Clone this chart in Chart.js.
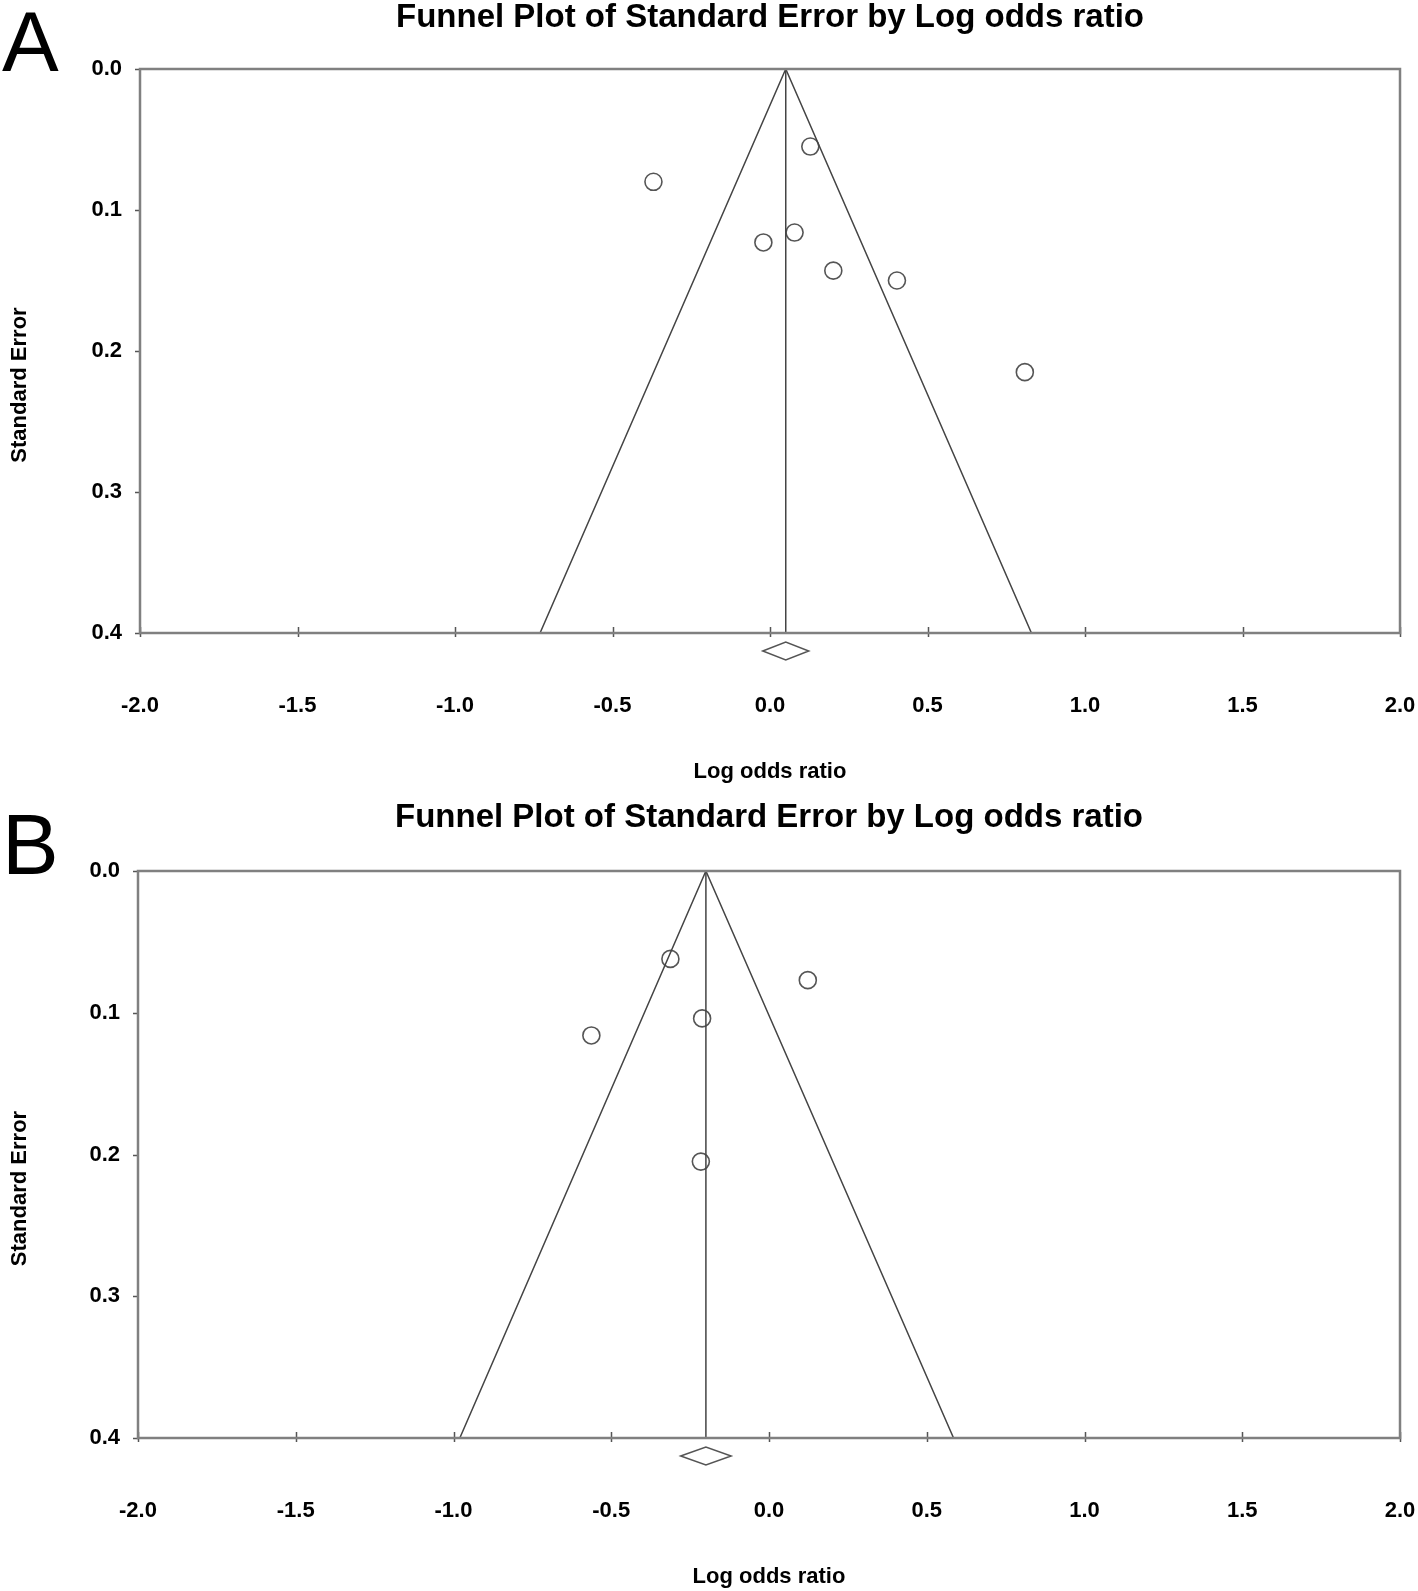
<!DOCTYPE html>
<html>
<head>
<meta charset="utf-8">
<script src="https://cdn.jsdelivr.net/npm/chart.js@4.4.1/dist/chart.umd.min.js"></script>
<style>
  body { margin: 0; background: #fff; width: 1418px; height: 1591px; overflow: hidden; position: relative; font-family: "Liberation Sans", Arial, sans-serif; }
  .panel { position: absolute; left: 0; width: 1418px; }
  .letter { position: absolute; left: 2px; font-size: 85px; line-height: 1; color: #000; }
</style>
</head>
<body>
<div class="panel" style="top:0;height:790px"><canvas id="chartA" width="1418" height="790"></canvas></div>
<div class="panel" style="top:800px;height:791px"><canvas id="chartB" width="1418" height="791"></canvas></div>
<div class="letter" style="top:-1px">A</div>
<div class="letter" style="top:802px">B</div>
<script>
// 軸
const titleText = 'Funnel Plot of Standard Error by Log odds ratio';
const xTitle = 'Log odds ratio';
const yTitle = 'Standard Error';
const xMin = -2.0, xMax = 2.0, xStep = 0.5;
const yMin = 0.0, yMax = 0.4, yStep = 0.1;

// A: studies
const logOrA = [0.128, -0.370, 0.078, -0.021, 0.201, 0.403, 0.809];
const seA = [0.055, 0.080, 0.116, 0.123, 0.143, 0.150, 0.215];
const pooledA = [0.05, -0.023, 0.123];   // mean, lower, upper
const funnelA = [-0.73, 0.83];           // limits at SE 0.4

// B: studies
const logOrB = [-0.3125, 0.123, -0.212, -0.563, -0.216];
const seB = [0.062, 0.077, 0.104, 0.116, 0.205];
const pooledB = [-0.20, -0.28, -0.12];
const funnelB = [-0.98, 0.585];

const FONT = '"Liberation Sans", Arial, sans-serif';
const LINE = '#444';

// frame, crossing ticks, pooled diamond, y title
const extras = {
    id: 'extras',
    afterDatasetsDraw(chart, args, opts) {
        const ctx = chart.ctx;
        const a = chart.chartArea;
        const x = chart.scales.x, y = chart.scales.y;
        ctx.save();
        ctx.strokeStyle = '#555';
        ctx.lineWidth = 1.5;
        ctx.beginPath();
        x.ticks.forEach(function (t) {
            var px = Math.round(x.getPixelForValue(t.value)) + 0.5;
            ctx.moveTo(px, a.bottom - 6);
            ctx.lineTo(px, a.bottom + 4);
        });
        y.ticks.forEach(function (t) {
            var py = Math.round(y.getPixelForValue(t.value)) + 0.5;
            ctx.moveTo(a.left - 5, py);
            ctx.lineTo(a.left, py);
        });
        ctx.stroke();

        ctx.strokeStyle = '#808080';
        ctx.lineWidth = 2.5;
        ctx.strokeRect(a.left, a.top, a.right - a.left, a.bottom - a.top);

        // diamond under the axis
        var p = opts.pooled;
        var cy = a.bottom + 18;
        ctx.strokeStyle = '#555';
        ctx.lineWidth = 1.5;
        ctx.beginPath();
        ctx.moveTo(x.getPixelForValue(p[1]), cy);
        ctx.lineTo(x.getPixelForValue(p[0]), cy - 9);
        ctx.lineTo(x.getPixelForValue(p[2]), cy);
        ctx.lineTo(x.getPixelForValue(p[0]), cy + 9);
        ctx.closePath();
        ctx.stroke();

        // y title, sits a bit below centre as in the original
        ctx.fillStyle = '#000';
        ctx.font = 'bold 22px ' + FONT;
        ctx.textAlign = 'center';
        ctx.textBaseline = 'middle';
        ctx.translate(20, (a.top + a.bottom) / 2 + 34);
        ctx.rotate(-Math.PI / 2);
        ctx.fillText(yTitle, 0, 0);
        ctx.restore();
    }
};

function fmt(v) {
    if (Math.abs(v) < 1e-9) return '0.0';
    return Number(v).toFixed(1);
}

function makeFunnel(id, logOr, se, pooled, funnel, box) {
    var pts = logOr.map(function (v, i) { return {x: v, y: se[i]}; });
    var ctx = document.getElementById(id);
    return new Chart(ctx, {
        type: 'scatter',
        data: {
            datasets: [{
                type: 'line',
                data: [{x: funnel[0], y: yMax}, {x: pooled[0], y: yMin}, {x: funnel[1], y: yMax}],
                borderColor: LINE,
                borderWidth: 1.5,
                pointRadius: 0,
                fill: false,
                tension: 0
            }, {
                type: 'line',
                data: [{x: pooled[0], y: yMin}, {x: pooled[0], y: yMax}],
                borderColor: LINE,
                borderWidth: 1.5,
                pointRadius: 0,
                fill: false
            }, {
                data: pts,
                pointStyle: 'circle',
                pointRadius: 8.5,
                pointBorderWidth: 1.6,
                pointBorderColor: '#555',
                pointBackgroundColor: '#fff'
            }]
        },
        options: {
            responsive: false,
            animation: false,
            layout: { padding: { left: 0, right: 18, top: 0, bottom: 0 } },
            plugins: {
                legend: { display: false },
                tooltip: { enabled: false },
                title: {
                    display: true,
                    text: titleText,
                    fullSize: false,
                    color: '#000',
                    font: { family: FONT, size: 33, weight: 'bold', lineHeight: 1 },
                    padding: { top: 1.5, bottom: box.titleGap }
                },
                extras: { pooled: pooled }
            },
            scales: {
                x: {
                    type: 'linear',
                    min: xMin, max: xMax,
                    border: { display: false },
                    grid: { display: false, drawTicks: false },
                    ticks: {
                        stepSize: xStep,
                        padding: 60,
                        maxRotation: 0,
                        color: '#000',
                        font: { family: FONT, size: 22, weight: 'bold' },
                        callback: fmt
                    },
                    title: {
                        display: true,
                        text: xTitle,
                        color: '#000',
                        font: { family: FONT, size: 22, weight: 'bold' },
                        padding: { top: 0, bottom: box.xTitlePad }
                    },
                    afterFit: function (s) {
                        s.height = box.xHeight;
                        s.paddingLeft = 0;
                        s.paddingRight = 0;
                    }
                },
                y: {
                    type: 'linear',
                    reverse: true,
                    min: yMin, max: yMax,
                    border: { display: false },
                    grid: { display: false, drawTicks: false },
                    ticks: {
                        stepSize: yStep,
                        padding: 18,
                        color: '#000',
                        font: { family: FONT, size: 22, weight: 'bold' },
                        callback: fmt
                    },
                    afterFit: function (s) { s.width = box.yWidth; }
                }
            }
        },
        plugins: [extras]
    });
}

makeFunnel('chartA', logOrA, seA, pooledA, funnelA, { titleGap: 34.5, xHeight: 157, xTitlePad: 4.8, yWidth: 140 });
makeFunnel('chartB', logOrB, seB, pooledB, funnelB, { titleGap: 36.5, xHeight: 153, xTitlePad: 0.8, yWidth: 138 });
</script>
</body>
</html>
